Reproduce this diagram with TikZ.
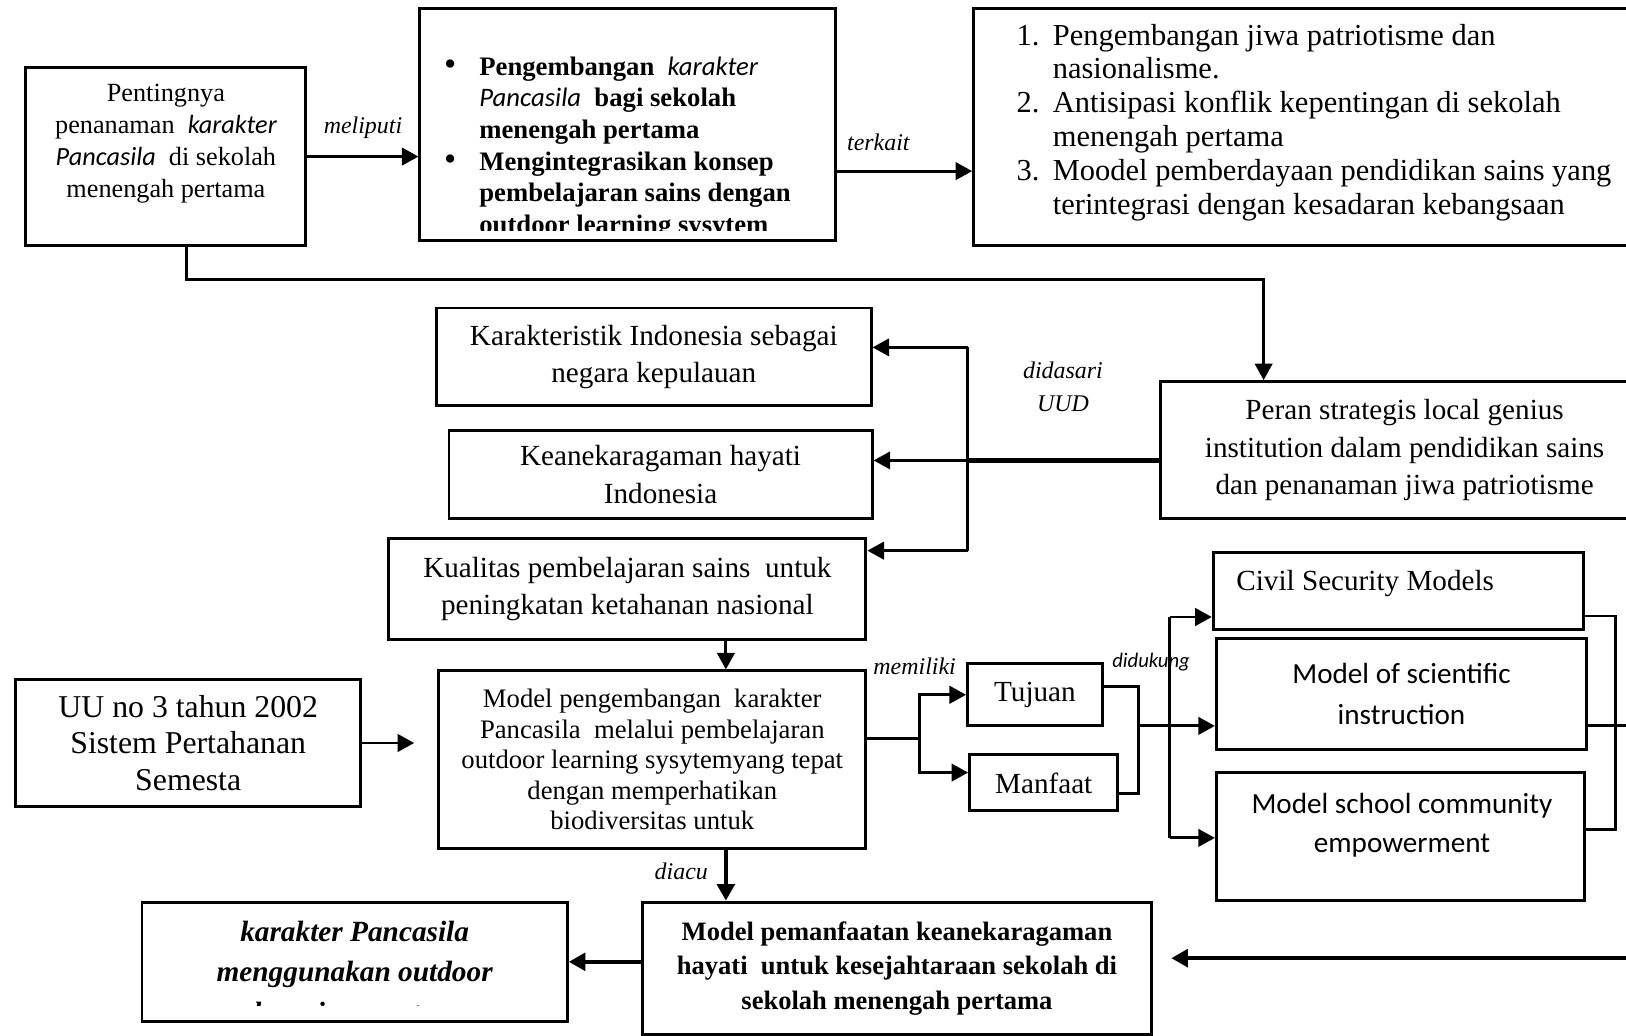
\documentclass[tikz,border=0pt]{standalone}
\usepackage{fontspec}
\setmainfont{Liberation Serif}
\newfontfamily\calibri{Carlito}
\usetikzlibrary{arrows.meta, positioning, calc}

\begin{document}
\begin{tikzpicture}[x=0.025cm, y=-0.025cm, >={Triangle[length=0.4cm, width=0.42cm]}]

		% Setup the styles for the boxes, links and tags
		\tikzset{box style/.style={draw, rectangle, line width=2pt, inner sep=0pt, align=center},
				link/.style={line width=2pt},
				heavy link/.style={line width=3pt},
				tag/.style={inner sep=0pt, align=center, font=\fontsize{16.4}{22.8}\selectfont\itshape}}

		\useasboundingbox (0,0) rectangle (1568,999);
		\clip (0,0) rectangle (1568,999);

		% Draw the boxes of the top row
		\node[box style, minimum width=6.75cm, minimum height=4.3cm] at (160,151) (pentingnya) {};
		\node[inner sep=0pt, align=center, font=\fontsize{18}{22}\selectfont] at (160,138.5) (pentingnyaText)
			{Pentingnya\\penanaman~ {\calibri\itshape karakter}\\{\calibri\itshape Pancasila}~ di sekolah\\menengah pertama};

		\node[box style, minimum width=10.025cm, minimum height=5.6cm] at (605.5,120) (bulletbox) {};
		\begin{scope}
			\clip (408,11) rectangle (803,222);
			\node[anchor=north west, inner sep=0pt, font=\fontsize{18.3}{21.7}\selectfont] at (428,51) (bulletText)
				{\begin{tabular}{@{}p{0.85cm}@{}l@{}}
					\scalebox{1.3}{\textbullet} & \textbf{Pengembangan}~ {\calibri\itshape karakter}\\
					& {\calibri\itshape Pancasila}~ \textbf{bagi sekolah}\\
					& \textbf{menengah pertama}\\
					\scalebox{1.3}{\textbullet} & \textbf{Mengintegrasikan konsep}\\
					& \textbf{pembelajaran sains dengan}\\
					& \textbf{outdoor learning sysytem}
				\end{tabular}};
		\end{scope}

		\node[box style, minimum width=16.275cm, minimum height=5.725cm] at (1264.5,122.5) (listbox) {};
		\node[anchor=west, inner sep=0pt, font=\fontsize{20.9}{23.2}\selectfont] at (980,118.5) (listText)
			{\begin{tabular}{@{}p{0.875cm}@{}l@{}}
				1. & Pengembangan jiwa patriotisme dan\\
				& nasionalisme.\\
				2. & Antisipasi konflik kepentingan di sekolah\\
				& menengah pertama\\
				3. & Moodel pemberdayaan pendidikan sains yang\\
				& terintegrasi dengan kesadaran kebangsaan
			\end{tabular}};

		% Draw the boxes of the middle part
		\node[box style, minimum width=10.475cm, minimum height=2.35cm, font=\fontsize{20}{25.6}\selectfont] at (630.5,344) (karakteristik)
			{Karakteristik Indonesia sebagai\\negara kepulauan};
		\node[box style, minimum width=10.2cm, minimum height=2.125cm, font=\fontsize{20}{25.6}\selectfont] at (637,457.5) (keanekaragaman)
			{Keanekaragaman hayati\\Indonesia};
		\node[box style, minimum width=11.5cm, minimum height=2.45cm, font=\fontsize{20}{25.6}\selectfont] at (605,568) (kualitas)
			{Kualitas pembelajaran sains~ untuk\\peningkatan ketahanan nasional};
		\node[box style, minimum width=11.775cm, minimum height=3.3cm, font=\fontsize{20}{26}\selectfont] at (1354.5,434) (peran)
			{Peran strategis local genius\\institution dalam pendidikan sains\\dan penanaman jiwa patriotisme};

		\node[box style, minimum width=8.325cm, minimum height=3.075cm, font=\fontsize{21.8}{24.9}\selectfont] at (181.5,716.5) (uu)
			{UU no 3 tahun 2002\\Sistem Pertahanan\\Semesta};
		\node[box style, minimum width=10.3cm, minimum height=4.275cm, font=\fontsize{18.3}{21}\selectfont] at (629,732.5) (model)
			{Model pengembangan~ karakter\\Pancasila~ melalui pembelajaran\\outdoor learning sysytemyang tepat\\dengan memperhatikan\\biodiversitas untuk};
		\node[box style, minimum width=3.25cm, minimum height=1.5cm, font=\fontsize{20}{24}\selectfont] at (998,670) (tujuan) {Tujuan};
		\node[box style, minimum width=3.575cm, minimum height=1.35cm, font=\fontsize{20}{24}\selectfont] at (1006.5,755) (manfaat) {Manfaat};

		\node[box style, minimum width=8.925cm, minimum height=1.85cm] at (1348.5,570) (civil) {};
		\node[anchor=west, inner sep=0pt, font=\fontsize{20}{24}\selectfont] at (1192,563) (civilText) {Civil Security Models};
		\node[box style, minimum width=8.925cm, minimum height=2.675cm, font=\calibri\fontsize{20}{28.4}\selectfont] at (1351.5,669) (scientific)
			{Model of scientific\\instruction};
		\node[box style, minimum width=8.875cm, minimum height=3.075cm] at (1350.5,806.5) (school) {};
		\node[inner sep=0pt, align=center, font=\calibri\fontsize{20}{27}\selectfont] at (1352,796) (schoolText)
			{Model school community\\empowerment};

		% Draw the boxes of the bottom row
		\node[box style, minimum width=12.25cm, minimum height=3.2cm, font=\fontsize{18.2}{23.8}\selectfont\bfseries] at (865,934) (pemanfaatan)
			{Model pemanfaatan keanekaragaman\\hayati~ untuk kesejahtaraan sekolah di\\sekolah menengah pertama};
		\node[box style, minimum width=10.25cm, minimum height=2.875cm] at (342,927.5) (karakterbox) {};
		\begin{scope}
			\clip (140,873) rectangle (544,970);
			\node[inner sep=0pt, align=center, font=\fontsize{20.1}{27.7}\selectfont\bfseries\itshape] at (342,940) (karakterText)
				{karakter Pancasila\\menggunakan outdoor\\learning sysytem};
		\end{scope}

		% Connect the boxes with arrows
		\draw[link, ->] (pentingnya.east) -- (pentingnya.east -| bulletbox.west);
		\node[tag] at (350,123) (meliputiTag) {meliputi};
		\draw[link, ->] ([yshift=-1.125cm]bulletbox.east) -- ([yshift=-1.125cm]bulletbox.east -| listbox.west);
		\node[tag] at (847,137) (terkaitTag) {terkait};
		\draw[link, ->] ([xshift=0.5cm]pentingnya.south) -- ++(0,31) -| ([xshift=2.525cm]peran.north west);

		\coordinate (udTop) at (933,335);
		\coordinate (udMid) at (933,444);
		\coordinate (udBot) at (933,531);
		\draw[heavy link] (peran.west |- udMid) -- (udMid);
		\draw[link] (udTop) -- (udBot);
		\draw[link, ->] (udTop) -- (udTop -| karakteristik.east);
		\draw[link, ->] (udMid) -- (udMid -| keanekaragaman.east);
		\draw[link, ->] (udBot) -- (udBot -| kualitas.east);
		\node[tag] at (1025,373) (didasariTag) {didasari\\UUD};

		\coordinate (spine) at (700,0);
		\draw[link, ->] (kualitas.south -| spine) -- (model.north -| spine);
		\draw[heavy link, ->] (model.south -| spine) -- (pemanfaatan.north -| spine);
		\node[tag] at (657,840) (diacuTag) {diacu};
		\draw[link, ->] (uu.east) -- ++(50,0);

		\coordinate (fork) at (887,712);
		\draw[link] (fork -| model.east) -- (fork);
		\draw[link, ->] (fork) |- (tujuan.west);
		\draw[link, ->] (fork) |- ([yshift=0.25cm]manfaat.west);
		\node[tag] at (882,643) (memilikiTag) {memiliki};

		\coordinate (joinTop) at (1098,662);
		\coordinate (join) at (1098,700);
		\coordinate (joinBot) at (1098,765);
		\draw[link] (tujuan.east |- joinTop) -- (joinTop) -- (joinBot) -- (manfaat.east |- joinBot);
		\draw[link, ->] (join) -- (join -| scientific.west);
		\node[inner sep=0pt, font=\calibri\fontsize{14.2}{17}\selectfont\itshape] at (1110,638) (didukungTag) {didukung};

		\coordinate (busTop) at (1128,595);
		\coordinate (busBot) at (1128,808);
		\draw[link] (busTop) -- (busBot);
		\draw[link, ->] (busTop) -- (busTop -| civil.west);
		\draw[link, ->] (busBot) -- (busBot -| school.west);

		\coordinate (backTop) at (1558,594);
		\coordinate (backBot) at (1558,800);
		\coordinate (backOut) at (1600,700);
		\coordinate (backLow) at (1600,924);
		\draw[link] (civil.east |- backTop) -- (backTop) -- (backBot) -- (school.east |- backBot);
		\draw[link] (join -| scientific.east) -- (backOut);
		\draw[heavy link, ->] (backOut) -- (backLow) -- ($(pemanfaatan.east |- backLow)+(18,0)$);
		\draw[heavy link, ->] (karakterbox.east -| pemanfaatan.west) -- (karakterbox.east);
		\end{tikzpicture}
\end{document}
